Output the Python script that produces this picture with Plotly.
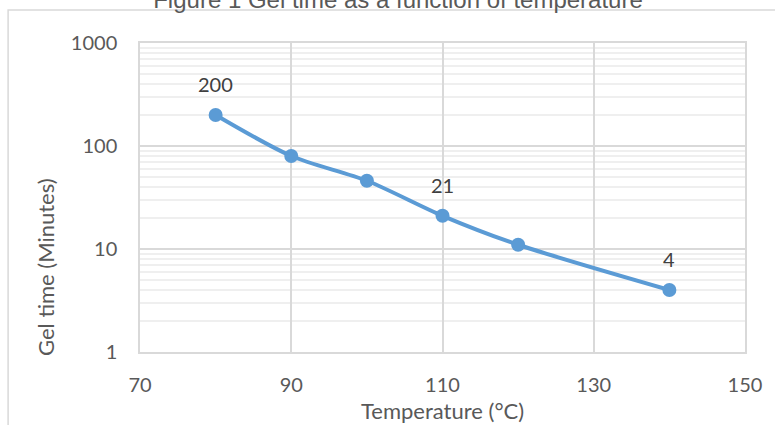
import math
import plotly.graph_objects as go

temperature = [80, 90, 100, 110, 120, 140]
gel_time = [200, 80, 46, 21, 11, 4]
labelled = [True, False, False, True, False, True]

x_ticks = [70, 90, 110, 130, 150]
y_tickvals = [1, 10, 100, 1000]
y_ticktext = ["1", "10", "100", "1000"]

title_text = "Figure 1 Gel time as a function of temperature"
x_title = "Temperature (°C)"
y_title = "Gel time (Minutes)"

BLUE = "#5B9BD5"
GRID = "#d9d9d9"
TXT = "#595959"
FONT = "Lato"

fig = go.Figure()
fig.add_trace(go.Scatter(
    x=temperature, y=gel_time, mode="lines+markers",
    line=dict(color=BLUE, width=4, shape="spline", smoothing=0.8),
    marker=dict(color=BLUE, size=14),
    showlegend=False, hoverinfo="skip",
))

for t, g, show in zip(temperature, gel_time, labelled):
    if show:
        fig.add_annotation(x=t, y=math.log10(g), yref="y", xref="x", text=str(g),
                           showarrow=False, yshift=31, xanchor="center", yanchor="middle",
                           font=dict(family=FONT, size=20, color="#404040"))

fig.add_annotation(xref="paper", yref="paper", x=0, y=0, xshift=-95, yshift=85,
                   xanchor="center", yanchor="middle",
                   text=y_title, textangle=-90, showarrow=False,
                   font=dict(family=FONT, size=22, color=TXT))
fig.add_annotation(xref="paper", yref="paper", x=0.5, y=0, yshift=-58,
                   xanchor="center", yanchor="middle",
                   text=x_title, showarrow=False,
                   font=dict(family=FONT, size=22, color=TXT))

fig.add_shape(type="rect", xref="paper", yref="paper",
              x0=-0.218, x1=1.2, y0=-0.4, y1=1.107,
              line=dict(color=GRID, width=1.5), layer="below")

fig.update_layout(
    width=775, height=425,
    margin=dict(l=140, r=30, t=43, b=73),
    paper_bgcolor="white", plot_bgcolor="white",
    title=dict(text=title_text, x=398 / 775, xanchor="center", xref="container",
               y=1.0, yanchor="middle", yref="container",
               font=dict(family="Liberation Sans", size=24, color=TXT)),
    xaxis=dict(range=[70, 150], tickvals=x_ticks, showgrid=True,
               gridcolor=GRID, gridwidth=1.5, showline=True, linecolor=GRID,
               linewidth=1.5, mirror=True, zeroline=False, ticks="",
               ticklabelstandoff=14,
               tickfont=dict(family=FONT, size=20, color=TXT)),
    yaxis=dict(type="log", range=[0, 3], tickvals=y_tickvals, ticktext=y_ticktext,
               showgrid=True, gridcolor=GRID, gridwidth=1.5, showline=True,
               linecolor=GRID, linewidth=1.5, mirror=True, zeroline=False,
               ticks="", ticklabelstandoff=17,
               tickfont=dict(family=FONT, size=20, color=TXT),
               minor=dict(dtick="D1", showgrid=True, gridcolor="#efefef",
                          gridwidth=1.5, ticks="")),
)

fig.write_html("out.html", config={"displayModeBar": False},
               post_script="document.body.style.margin='0';")
